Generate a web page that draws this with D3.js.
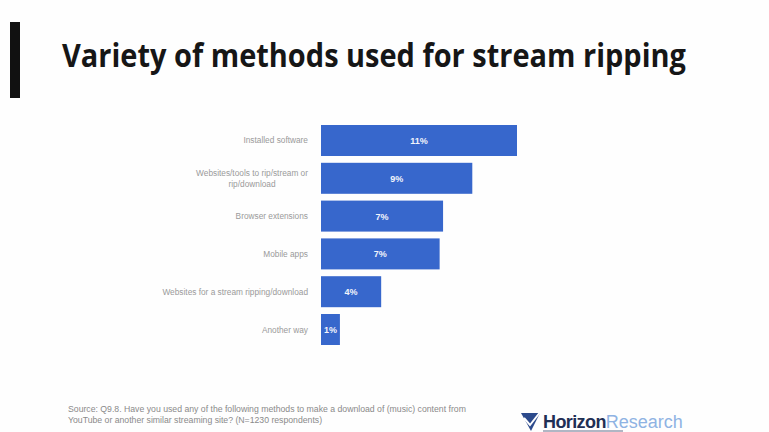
<!DOCTYPE html>
<html><head><meta charset="utf-8">
<script src="https://cdn.jsdelivr.net/npm/d3@7"></script>
<style>html,body{margin:0;padding:0;background:#fff;}svg{display:block;}</style>
</head><body>
<svg id="c" width="769" height="432"></svg>
<script>
const categories = [
  ["Installed software"],
  ["Websites/tools to rip/stream or", "rip/download"],
  ["Browser extensions"],
  ["Mobile apps"],
  ["Websites for a stream ripping/download"],
  ["Another way"]
];
const values = [11.4, 8.8, 7.1, 6.9, 3.5, 1.1];
const valueLabels = ["11%", "9%", "7%", "7%", "4%", "1%"];
const title = "Variety of methods used for stream ripping";
const sourceLines = [
  "Source: Q9.8. Have you used any of the following methods to make a download of (music) content from",
  "YouTube or another similar streaming site? (N=1230 respondents)"
];

const svg = d3.select("#c");
svg.append("rect").attr("width",769).attr("height",432).attr("fill","#fefefe");

// left accent bar
svg.append("rect").attr("x",10).attr("y",22).attr("width",10).attr("height",76).attr("fill","#111");

// title: natural text, horizontally condensed via transform to span 624px
const tg = svg.append("g").attr("transform","translate(62,67)");
const t = tg.append("text").attr("x",0).attr("y",0)
  .attr("font-family","'Open Sans', sans-serif").attr("font-weight",700)
  .attr("font-size",33).attr("fill","#161616").text(title);
const tw = t.node().getComputedTextLength();
tg.attr("transform",`translate(62,67) scale(${624/tw},1)`);

// scales
const x = d3.scaleLinear().domain([0, 11.4]).range([321, 517]);
const y = d3.scaleBand().domain(d3.range(values.length)).range([125, 345]).paddingInner(0.18).paddingOuter(0);

const g = svg.append("g");
g.selectAll("rect.bar").data(values).join("rect").attr("class","bar")
  .attr("x", x(0)).attr("y",(d,i)=>y(i)).attr("height",y.bandwidth())
  .attr("width", d=>x(d)-x(0)).attr("fill","#3767cc");

g.selectAll("text.val").data(values).join("text").attr("class","val")
  .attr("x", d=>(x(0)+x(d))/2).attr("y",(d,i)=>y(i)+y.bandwidth()/2+3.5)
  .attr("text-anchor","middle").attr("font-family","'Liberation Sans', Arial, sans-serif")
  .attr("font-weight","bold").attr("font-size",9).attr("fill","#f2f4fb")
  .text((d,i)=>valueLabels[i]);

// category labels: block right-aligned at 308, lines centered within block
const lab = g.selectAll("text.cat").data(categories).join("text").attr("class","cat")
  .attr("text-anchor","middle").attr("font-family","'Liberation Sans', Arial, sans-serif")
  .attr("font-size",8.3).attr("fill","#9a9a9a");
lab.each(function(lines,i){
  const el = d3.select(this);
  const cy = y(i)+y.bandwidth()/2;
  const lh = 11;
  const y0 = cy + 3 - (lines.length-1)*lh/2;
  const spans = lines.map((s,k)=> el.append("tspan").attr("x",0).attr("y",y0+k*lh).text(s));
  const w = d3.max(spans, sp => sp.node().getComputedTextLength());
  spans.forEach(sp => sp.attr("x", 308 - w/2));
});

// source footnote
sourceLines.forEach((s,k)=>{
  svg.append("text").attr("x",68).attr("y",412+k*11)
    .attr("font-family","'Liberation Sans', Arial, sans-serif").attr("font-size",8.7)
    .attr("fill","#8a8a8a").text(s);
});

// logo
const logo = svg.append("g");
logo.append("path").attr("d","M521,413 L540,413 L531,431 Z").attr("fill","#2c4a8c");
logo.append("path").attr("d","M524,418 L530,425 L541,411").attr("fill","none").attr("stroke","#fff").attr("stroke-width",2);
const lt = logo.append("text").attr("x",543).attr("y",428)
  .attr("font-family","'Liberation Sans', Arial, sans-serif").attr("font-size",18).attr("font-weight","bold");
lt.append("tspan").attr("fill","#1f2f55").attr("letter-spacing",-0.6).text("Horizon");
lt.append("tspan").attr("fill","#8fb3e3").attr("font-weight","normal").text("Research");
logo.append("rect").attr("x",543).attr("y",430).attr("width",80).attr("height",2).attr("fill","#b0b6c4");
</script>
</body></html>
